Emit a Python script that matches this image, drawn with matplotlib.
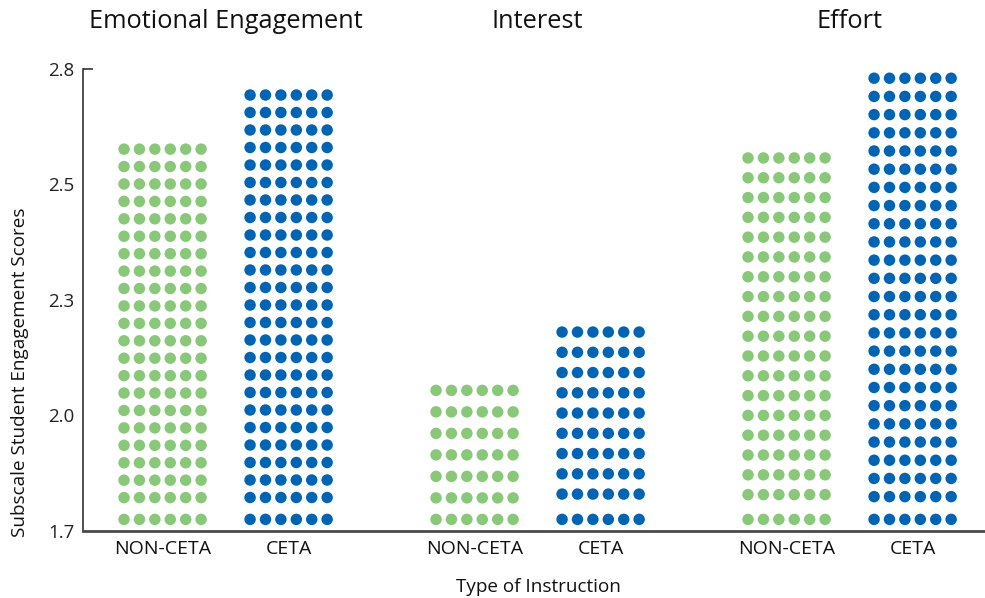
import matplotlib
matplotlib.use("Agg")
import matplotlib.pyplot as plt
import matplotlib.transforms as mtransforms
import numpy as np

# ---- data ----
groups = ["Emotional Engagement", "Interest", "Effort"]
categories = ["NON-CETA", "CETA"]
non_ceta = [2.609, 2.034, 2.588]
ceta = [2.738, 2.173, 2.778]
non_ceta_rows = [22, 7, 19]
ceta_rows = [25, 10, 25]
ytick_vals = [1.7, 1.975, 2.25, 2.525, 2.8]
ytick_labels = ["1.7", "2.0", "2.3", "2.5", "2.8"]
xlabel = "Type of Instruction"
ylabel = "Subscale Student Engagement Scores"

# ---- style ----
GREEN = "#88C878"
BLUE = "#0064B4"
FONT = "Open Sans"
plt.rcParams["font.family"] = [FONT, "DejaVu Sans"]

W, H = 985, 598
fig = plt.figure(figsize=(W / 100, H / 100), dpi=100)
ax_left, ax_right = 83, 985
ax_top, ax_bot = 69, 530.5
ax = fig.add_axes([ax_left / W, (H - ax_bot) / H, (ax_right - ax_left) / W, (ax_bot - ax_top) / H])

ymin, ymax = 1.7, 2.8
ax.set_ylim(ymin, ymax)
ax.set_xlim(-0.457, 2.434)

offset = 0.202          # category offset within group
col_step = 0.0494       # horizontal dot spacing
ncols = 6
base_row = ymin + 0.0265  # centre of the lowest dot row
tail = 0.25

def draw_dots(xc, top, nrows, color):
    # rows from the top downward, last row pinned at the base
    step = (top - base_row) / (nrows - 1 + tail) if nrows > 8 else (top - base_row) / (nrows - 1)
    ys = [top - i * step for i in range(nrows - 1)] + [base_row]
    xs = xc + (np.arange(ncols) - (ncols - 1) / 2) * col_step
    X, Y = np.meshgrid(xs, ys)
    ax.scatter(X.ravel(), Y.ravel(), s=68, color=color, edgecolors="none", zorder=3, clip_on=False)

for i in range(len(groups)):
    draw_dots(i - offset, non_ceta[i], non_ceta_rows[i], GREEN)
    draw_dots(i + offset, ceta[i], ceta_rows[i], BLUE)

# axes styling
for s in ["top", "right"]:
    ax.spines[s].set_visible(False)
ax.spines["left"].set_color("#222222")
ax.spines["left"].set_linewidth(1.1)
ax.spines["bottom"].set_color("#4a4a4a")
ax.spines["bottom"].set_linewidth(2)

ax.yaxis.remove_overlapping_locs = False
ax.set_yticks(ytick_vals)
ax.set_yticklabels(ytick_labels, fontsize=13.5, color="#222222")
ax.tick_params(axis="y", length=0, pad=6)
ax.set_yticks([ymax], minor=True)
ax.tick_params(axis="y", which="minor", direction="in", length=7, width=1.1, color="#222222")

xt = []
xl = []
for i in range(len(groups)):
    xt += [i - offset, i + offset]
    xl += categories
ax.set_xticks(xt)
ax.set_xticklabels(xl, fontsize=14, color="#111111")
ax.tick_params(axis="x", length=0, pad=7)

# group titles
trans = mtransforms.blended_transform_factory(ax.transData, fig.transFigure)
for i, g in enumerate(groups):
    ax.text(i, (H - 22) / H, g, transform=trans, ha="center", va="center", fontsize=18.3, color="#111111")

fig.text(538 / W, (H - 587) / H, xlabel, ha="center", va="center", fontsize=13.6, color="#111111")
fig.text(20 / W, (H - 372) / H, ylabel, ha="center", va="center", rotation=90, fontsize=13.6, color="#111111")

fig.savefig("out.png", dpi=100)
